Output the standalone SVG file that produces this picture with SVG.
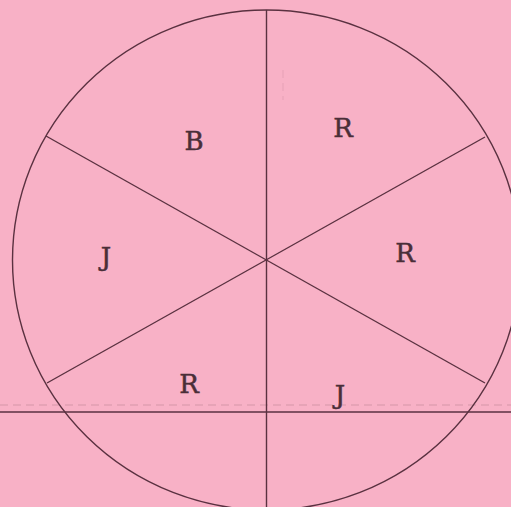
<svg xmlns="http://www.w3.org/2000/svg" width="511" height="507" viewBox="0 0 511 507">
<style>
.ln{stroke:#5a3140;stroke-width:1.4;fill:none}
.faint{stroke:#d596a8;stroke-width:1;stroke-dasharray:8 5;fill:none}
.lb{font-family:"DejaVu Serif","Liberation Serif",serif;font-size:26px;fill:#4a2e38;stroke:#4a2e38;stroke-width:0.5;text-anchor:middle}
</style>
<rect x="0" y="0" width="511" height="507" fill="#f8b1c6"/>
<g id="guides">
<line class="faint" x1="0" y1="405" x2="511" y2="405"/>
<line class="faint" x1="283" y1="70" x2="283" y2="100" stroke-opacity="0.5"/>
</g>
<g id="circle">
<ellipse class="ln" cx="266.5" cy="260" rx="254" ry="250"/>
</g>
<g id="connectors">
<line class="ln" x1="266.5" y1="10" x2="266.5" y2="507"/>
<line class="ln" x1="46" y1="136" x2="485" y2="383"/>
<line class="ln" x1="47" y1="383" x2="485" y2="137"/>
<line class="ln" x1="0" y1="412" x2="511" y2="412"/>
</g>
<g id="labels">
<text class="lb" x="194" y="150">B</text>
<text class="lb" x="343" y="137">R</text>
<text class="lb" x="106" y="266">J</text>
<text class="lb" x="405" y="262">R</text>
<text class="lb" x="189" y="393">R</text>
<text class="lb" x="340" y="404">J</text>
</g>
</svg>
